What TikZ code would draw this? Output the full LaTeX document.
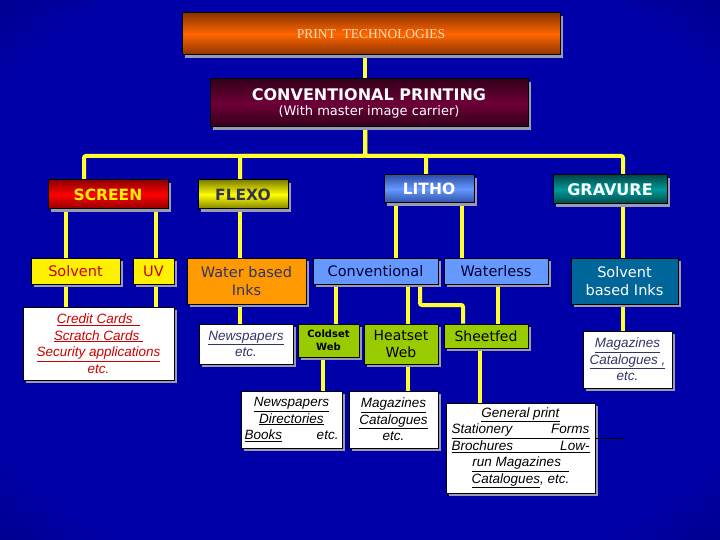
\documentclass[tikz,border=0pt]{standalone}
\usepackage{fontspec}
\setmainfont{DejaVu Sans}
\newfontfamily\notefont{Liberation Sans}
\newfontfamily\capsfont{Liberation Serif}
\usetikzlibrary{shadows}

\definecolor{bgin}{HTML}{0000A8}
\definecolor{bgout}{HTML}{00004A}
\definecolor{shadowgray}{HTML}{9A9AB0}
\definecolor{linkyellow}{HTML}{FFFF33}
\definecolor{darktext}{HTML}{333355}
\definecolor{navytext}{HTML}{000033}
\definecolor{redtext}{HTML}{CC0000}
\definecolor{bluetext}{HTML}{333366}
\definecolor{orangemid}{HTML}{FF6600}
\definecolor{orangeedge}{HTML}{8A3300}
\definecolor{maroonmid}{HTML}{6E0037}
\definecolor{maroonedge}{HTML}{33001A}
\definecolor{bluemid}{HTML}{6699FF}
\definecolor{blueedge}{HTML}{2F4FA8}
\definecolor{tealmid}{HTML}{009999}
\definecolor{tealedge}{HTML}{004848}
\definecolor{greenbox}{HTML}{99CC00}
\definecolor{orangebox}{HTML}{FF9900}
\definecolor{inkblue}{HTML}{006699}
\pgfdeclareradialshading{bgshade}{\pgfpoint{0bp}{0bp}}{color(0bp)=(bgin); color(30bp)=(bgin); color(50bp)=(bgout); color(75bp)=(bgout)}
\pgfdeclarelayer{bg}
\pgfsetlayers{bg,main}

\begin{document}
\begin{tikzpicture}
  [x=1pt,y=-1pt,
   box/.style={draw=black,line width=1pt,inner sep=1pt,align=center,
     drop shadow={shadow xshift=3pt,shadow yshift=-3pt,fill=shadowgray,opacity=1}},
   head/.style={box,font=\bfseries\fontsize{15.5}{18}\selectfont},
   sub/.style={box,font=\fontsize{14.5}{18}\selectfont},
   note/.style={box,fill=white,font=\notefont\itshape\fontsize{13.5}{16.5}\selectfont},
   link/.style={draw=linkyellow,line width=4pt,rounded corners=2pt}]
  \useasboundingbox (0,0) rectangle (720,540);

  % top of the tree
  \node[box,minimum width=378pt,minimum height=42pt,top color=orangeedge,bottom color=orangeedge,middle color=orangemid,
        text={rgb,255:red,255;green,222;blue,190},font=\capsfont\fontsize{13.5}{16}\selectfont] (toptech) at (371,34) {PRINT\ \ TECHNOLOGIES};
  \node[box,minimum width=318pt,minimum height=48pt,top color=maroonedge,bottom color=maroonedge,middle color=maroonmid,text=white] (conv) at (369,103)
    {{\bfseries\fontsize{16}{19}\selectfont CONVENTIONAL PRINTING}\\[3pt]{\fontsize{13}{15}\selectfont (With master image carrier)}};

  % processes
  \node[head,minimum width=120pt,minimum height=29pt,top color=red!55!black,bottom color=red!55!black,middle color=red,text=yellow] (screen) at (108,194.5) {SCREEN};
  \node[head,minimum width=90pt,minimum height=29pt,top color=yellow!50!black,bottom color=yellow!50!black,middle color=yellow,text=darktext] (flexo) at (243,194.5) {FLEXO};
  \node[head,minimum width=90pt,minimum height=28pt,top color=blueedge,bottom color=blueedge,middle color=bluemid,text=white] (litho) at (429,189) {LITHO};
  \node[head,minimum width=114pt,minimum height=29pt,top color=tealedge,bottom color=tealedge,middle color=tealmid,text=white,font=\bfseries\fontsize{16}{18}\selectfont] (gravure) at (610,189.5) {GRAVURE};

  % inks and presses
  \node[sub,minimum width=89pt,minimum height=26pt,fill=yellow,text=redtext] (solvent) at (75.5,271) {Solvent};
  \node[sub,minimum width=41pt,minimum height=26pt,fill=yellow,text=redtext] (uv) at (153.5,271) {UV};
  \node[sub,minimum width=119pt,minimum height=46pt,fill=orangebox,text=bluetext] (water) at (246.5,281) {Water based\\Inks};
  \node[sub,minimum width=125pt,minimum height=26pt,fill=bluemid,text=navytext] (conven) at (375.5,271) {Conventional};
  \node[sub,minimum width=104pt,minimum height=26pt,fill=bluemid,text=navytext] (waterless) at (496,271) {Waterless};
  \node[sub,minimum width=107pt,minimum height=46pt,fill=inkblue,text=white] (solvinks) at (624.5,281) {Solvent\\based Inks};

  \node[box,minimum width=61pt,minimum height=33pt,fill=greenbox,font=\bfseries\fontsize{10}{12.5}\selectfont] (coldset) at (328.5,340.5) {Coldset\\Web};
  \node[sub,minimum width=74pt,minimum height=40pt,fill=greenbox,font=\fontsize{14}{17}\selectfont] (heatset) at (401,344) {Heatset\\Web};
  \node[sub,minimum width=84pt,minimum height=24pt,fill=greenbox,font=\fontsize{14}{17}\selectfont] (sheetfed) at (486,336) {Sheetfed};

  % products
  \node[note,minimum width=151pt,minimum height=73pt,text=redtext] (credit) at (98.5,343.5)
    {\underline{Credit Cards\ \ }\\\underline{Scratch Cards\ }\\\underline{Security applications}\\etc.};
  \node[note,minimum width=94pt,minimum height=40pt,text=bluetext] (newsA) at (246,344) {\underline{Newspapers}\\etc.};
  \node[note,minimum width=89pt,minimum height=57pt,text=bluetext] (magG) at (627.5,359.5) {\underline{Magazines}\\\underline{Catalogues ,}\\etc.};
  \node[note,minimum width=101pt,minimum height=57pt,text=black] (newsB) at (291.5,419.5)
    {\underline{Newspapers}\\\underline{Directories}\\\makebox[94pt][s]{\underline{Books}\hfill etc.}};
  \node[note,minimum width=89pt,minimum height=57pt,text=black] (magB) at (393.5,419.5) {\underline{Magazines}\\\underline{Catalogues}\\etc.};
  \node[note,minimum width=149pt,minimum height=90pt,text=black] (general) at (520.5,448)
    {\underline{General print}\\\underline{\makebox[138pt][s]{Stationery\hfill Forms}}\\\underline{\makebox[138pt][s]{Brochures\hfill Low-}}\\\underline{run Magazines\ \ }\\\underline{Catalogues}, etc.};
  \coordinate (stray) at (623,438);

  \begin{pgfonlayer}{bg}
    \fill[shading=bgshade] (0,0) rectangle (720,540);
    \draw[link] (365,0 |- toptech.south) -- (365,0 |- conv.north);
    \foreach \to/\x in {screen/84, flexo/240, litho/426, gravure/623}
      \draw[link] (365,0 |- conv.south) -- (365,156) -| (\x,0 |- \to.north);
    \foreach \from/\to/\x in {screen/solvent/66, screen/uv/156, flexo/water/240, litho/conven/396,
        litho/waterless/462, gravure/solvinks/623, solvent/credit/66, uv/credit/156, water/newsA/240,
        conven/coldset/336, conven/heatset/408, waterless/sheetfed/498, solvinks/magG/623,
        coldset/newsB/323, heatset/magB/408, sheetfed/general/480}
      \draw[link] (\x,0 |- \from.south) -- (\x,0 |- \to.north);
    \draw[link] (420,0 |- conven.south) |- (463,305) -- (463,0 |- sheetfed.north);
  \end{pgfonlayer}
  \draw[line width=1pt] (general.east |- stray) -- (stray);

\end{tikzpicture}
\end{document}
